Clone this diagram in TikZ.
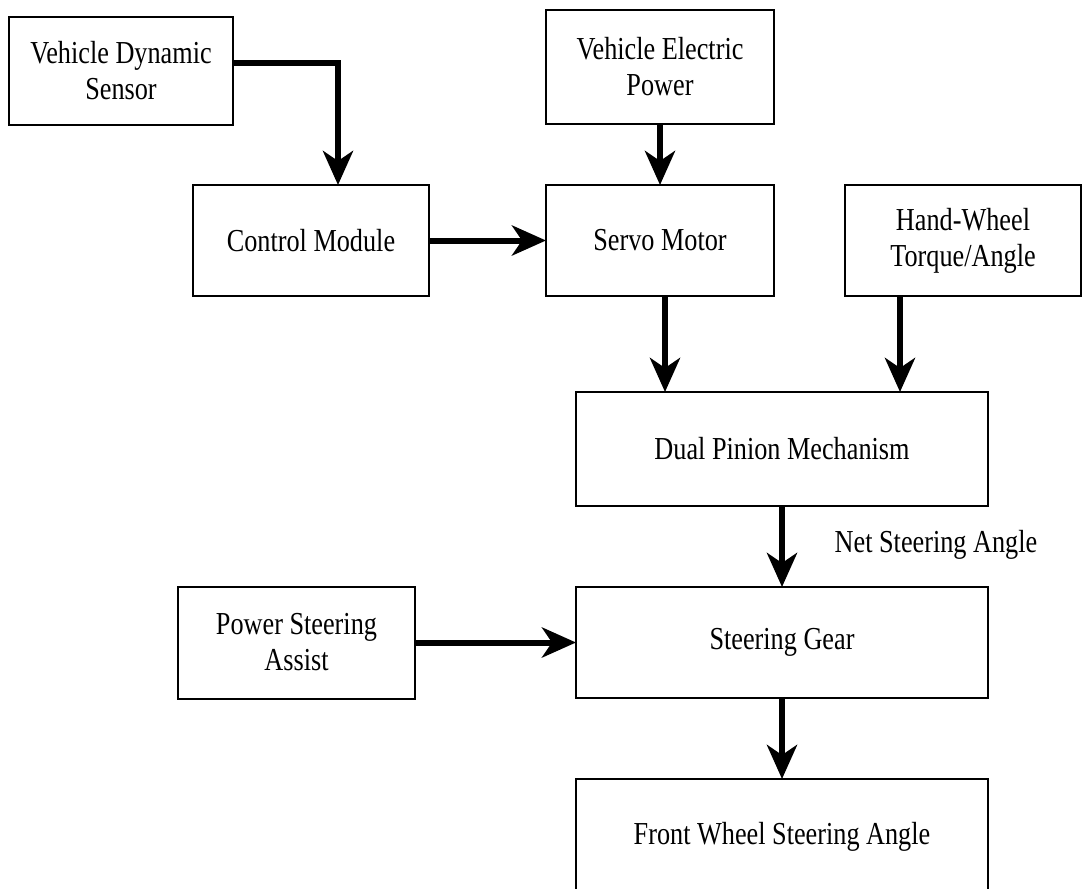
\documentclass[tikz,border=0pt]{standalone}
\usepackage{fontspec}
\setmainfont{Liberation Serif}[FakeStretch=0.82]
\usetikzlibrary{arrows.meta}
\begin{document}
\begin{tikzpicture}[x=1pt,y=-1pt,
  blk/.style={draw=black,line width=2pt,rectangle,outer sep=0pt,inner sep=2pt,align=center,
    font=\fontsize{32}{36}\selectfont},
  arr/.style={line width=6pt,-{Stealth[length=34pt,width=30pt,inset=10pt]}},
  lbl/.style={font=\fontsize{32}{36}\selectfont,inner sep=0pt}]
\clip (0,0) rectangle (1083,888);
\fill[white] (0,0) rectangle (1083,888);
\node[blk,minimum width=224pt,minimum height=108pt] (vds) at (121,71) {Vehicle Dynamic\\Sensor};
\node[blk,minimum width=228pt,minimum height=114pt] (vep) at (660,67) {Vehicle Electric\\Power};
\node[blk,minimum width=236pt,minimum height=111pt] (cm) at (311,240.5) {Control Module};
\node[blk,minimum width=228pt,minimum height=111pt] (sm) at (660,240.5) {Servo Motor};
\node[blk,minimum width=236pt,minimum height=111pt] (hw) at (963,240.5) {Hand-Wheel\\Torque/Angle};
\node[blk,minimum width=412pt,minimum height=114pt] (dpm) at (782,449) {Dual Pinion Mechanism};
\node[blk,minimum width=412pt,minimum height=111pt] (sg) at (782,642.5) {Steering Gear};
\node[blk,minimum width=237pt,minimum height=112pt] (psa) at (296.5,642.5) {Power Steering\\Assist};
\node[blk,minimum width=412pt,minimum height=115pt] (fw) at (782,836.5) {Front Wheel Steering Angle};
\node[lbl] (nsa) at (936,545) {Net Steering Angle};
\coordinate (vdsout) at (233,63);
\coordinate (cmin) at (338,185);
\draw[arr] (vdsout) -| (cmin);
\draw[arr] (vep.south) -- (sm.north);
\draw[arr] (cm.east) -- (sm.west);
\draw[arr] ([xshift=5pt]sm.south) -- ([xshift=5pt]sm.south |- dpm.north);
\draw[arr] (hw.south -| 900,0) -- (dpm.north -| 900,0);
\draw[arr] (dpm.south) -- (sg.north);
\draw[arr] (psa.east) -- (sg.west);
\draw[arr] (sg.south) -- (fw.north);
\end{tikzpicture}
\end{document}
